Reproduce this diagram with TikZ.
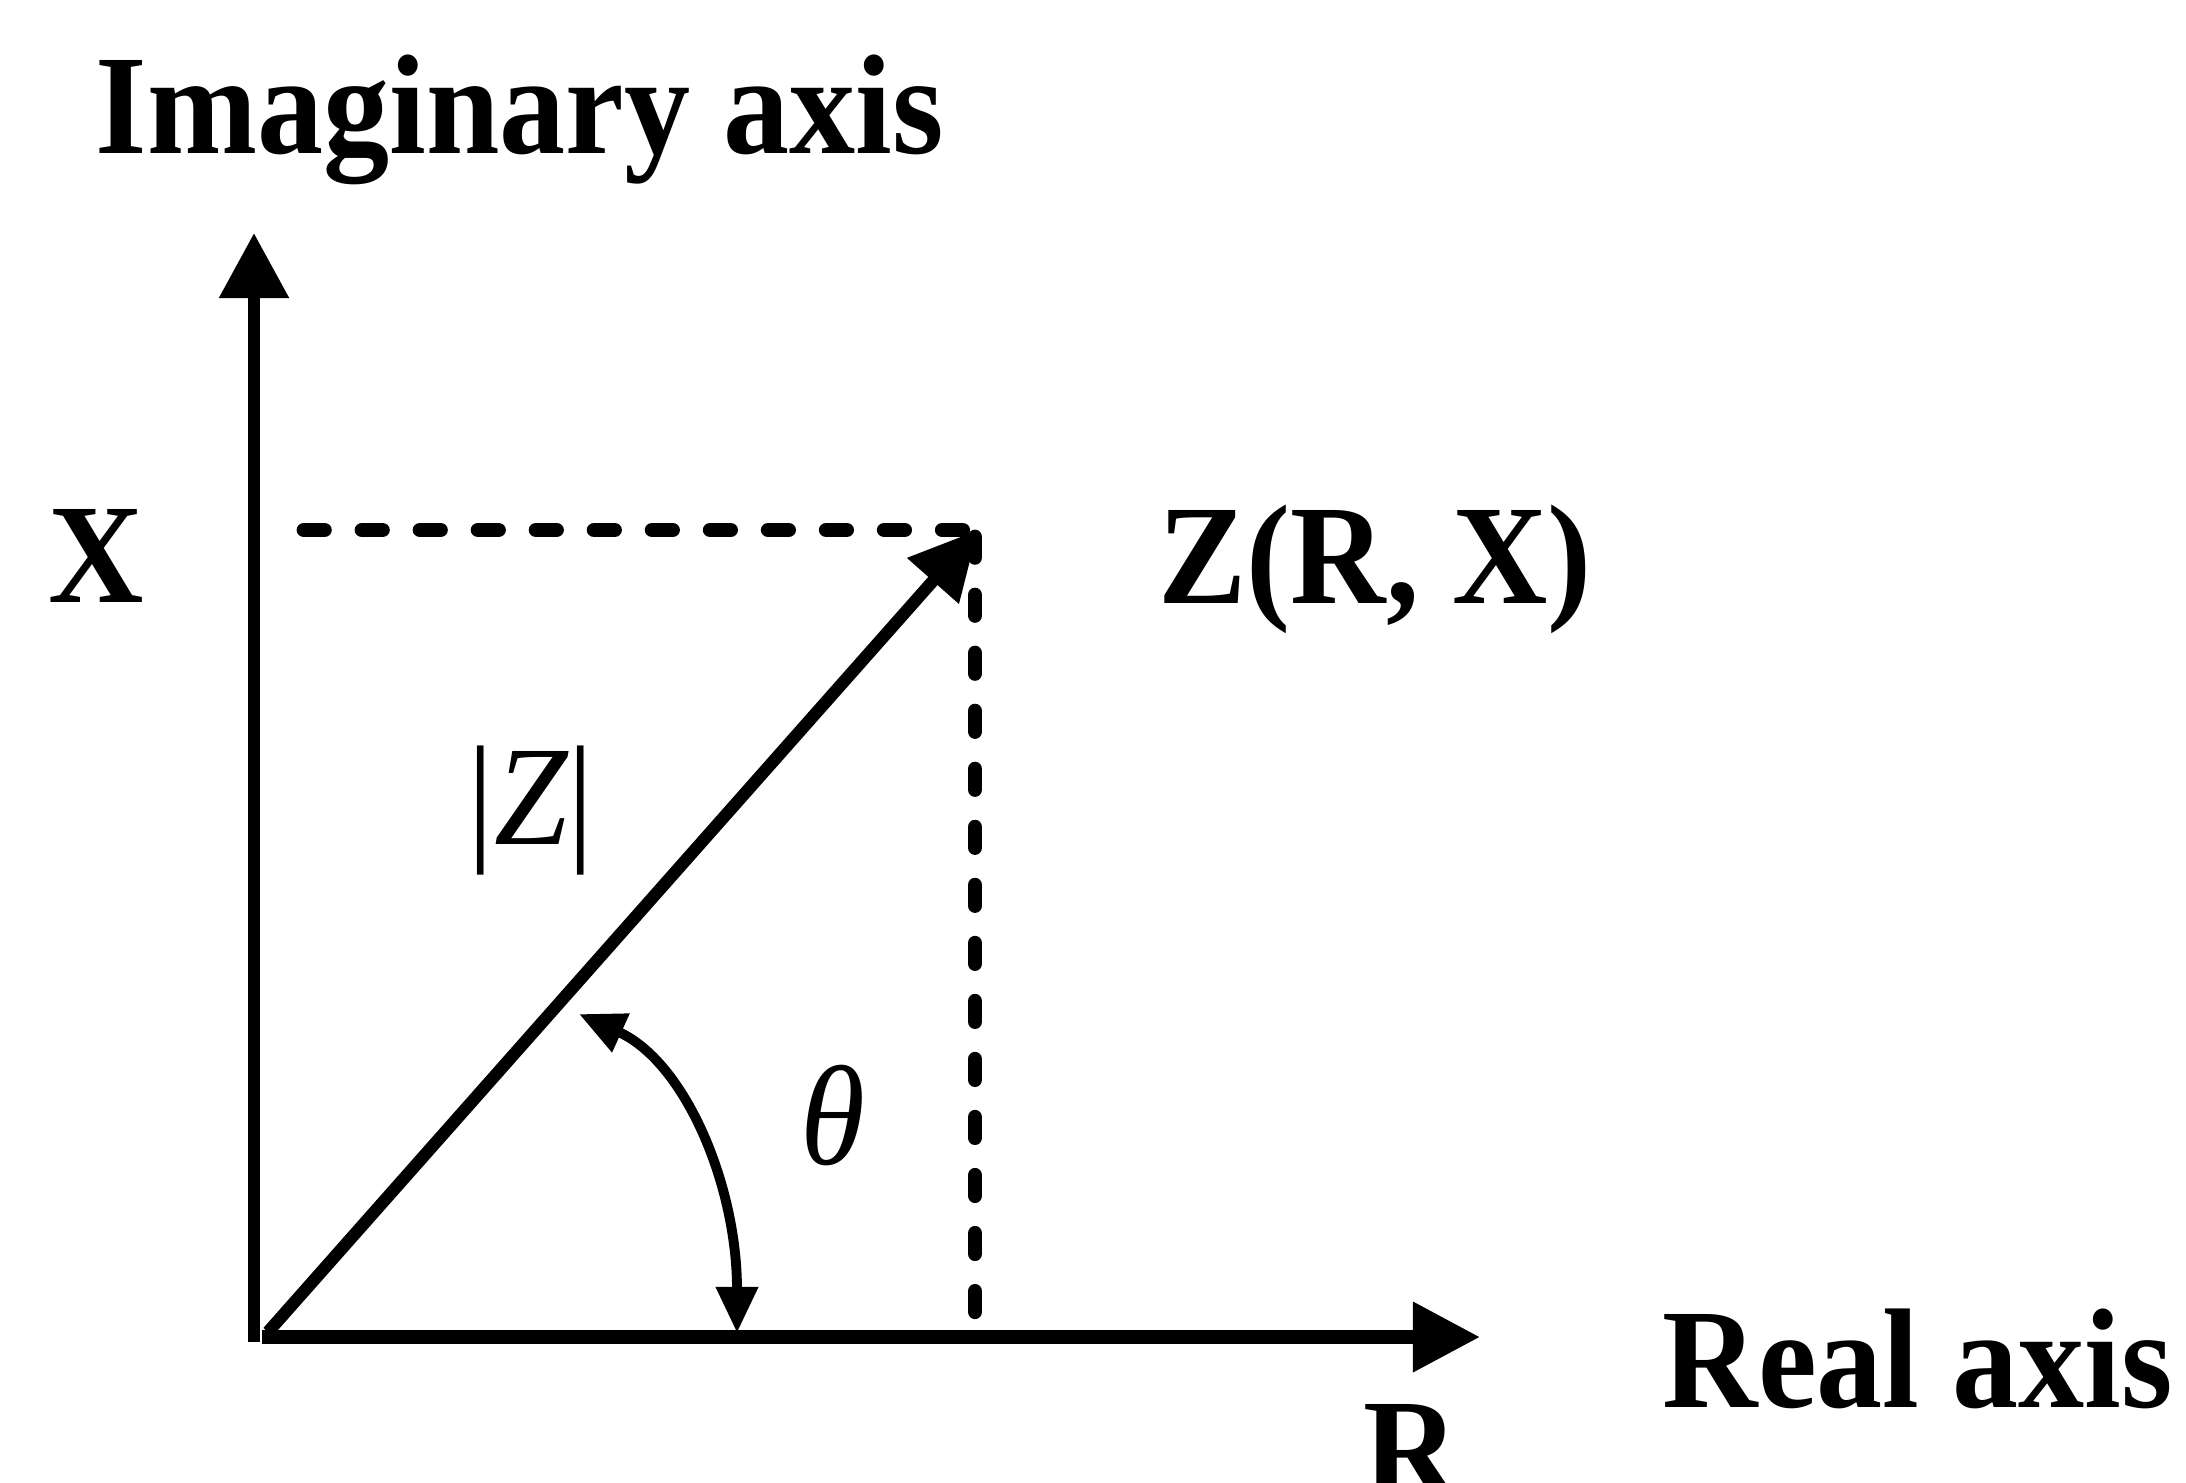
\documentclass[tikz,border=0pt]{standalone}
\usepackage{fontspec}
\setmainfont{Liberation Serif}[FakeStretch=0.93]
\usetikzlibrary{arrows.meta}
\newcommand{\bigfont}{\fontsize{40.4pt}{48pt}\selectfont}
\tikzset{
  axisline/.style={line width=3.4pt, -{Triangle[length=0.65cm,width=0.67cm]}},
  raxisline/.style={line width=3.8pt, -{Triangle[length=0.67cm,width=0.67cm]}},
  vecline/.style={line width=3.5pt, -{Triangle[length=0.68cm,width=0.66cm]}},
  dashline/.style={line width=4.2pt, line cap=round, dash pattern=on 5.8pt off 10.7pt},
  anglearc/.style={line width=2.8pt, {Triangle[length=0.46cm,width=0.40cm]}-{Triangle[length=0.46cm,width=0.40cm]}},
  lbl/.style={inner sep=0pt, anchor=base west, font=\bigfont\bfseries},
  mlbl/.style={inner sep=0pt, anchor=base west, font=\bigfont\itshape}
}
\begin{document}
\begin{tikzpicture}[x=0.01cm, y=-0.01cm]
  \useasboundingbox (0,0) rectangle (2186,1482);
  % key points
  \coordinate (Obot) at (254,1342);
  \coordinate (Itip) at (254,233);
  \coordinate (Ostart) at (262,1337);
  \coordinate (Rtip) at (1480,1337);
  \coordinate (Vstart) at (268,1332);
  \coordinate (Z) at (978,530);
  \coordinate (Hdash) at (304,530);
  \coordinate (Zh) at (972,530);
  \coordinate (Zv) at (975,537);
  \coordinate (Vfoot) at (975,1326);
  \coordinate (A1) at (737,1333);
  \coordinate (A2) at (579,1014);
  % axes
  \draw[axisline] (Obot) -- (Itip);
  \draw[raxisline] (Ostart) -- (Rtip);
  % dashed projections
  \draw[dashline] (Hdash) -- (Zh);
  \draw[dashline] (Zv) -- (Vfoot);
  % vector
  \draw[vecline] (Vstart) -- (Z);
  % angle arc
  \draw[anglearc] (A1) .. controls (737,1185) and (685,1062) .. (A2);
  % labels
  \node[lbl] (imag) at (95,153) {Imaginary axis};
  \node[lbl] (xl) at (48,602) {X};
  \node[lbl] (zl) at (1158,603) {Z(R, X)};
  \node[lbl] (real) at (1662,1407) {Real axis};
  \node[lbl] (rl) at (1363,1497) {R};
  \node[mlbl] (absz) at (467,844) {\upshape|\itshape Z\upshape|};
  \node[mlbl] (theta) at (800,1164) {θ};
\end{tikzpicture}
\end{document}
